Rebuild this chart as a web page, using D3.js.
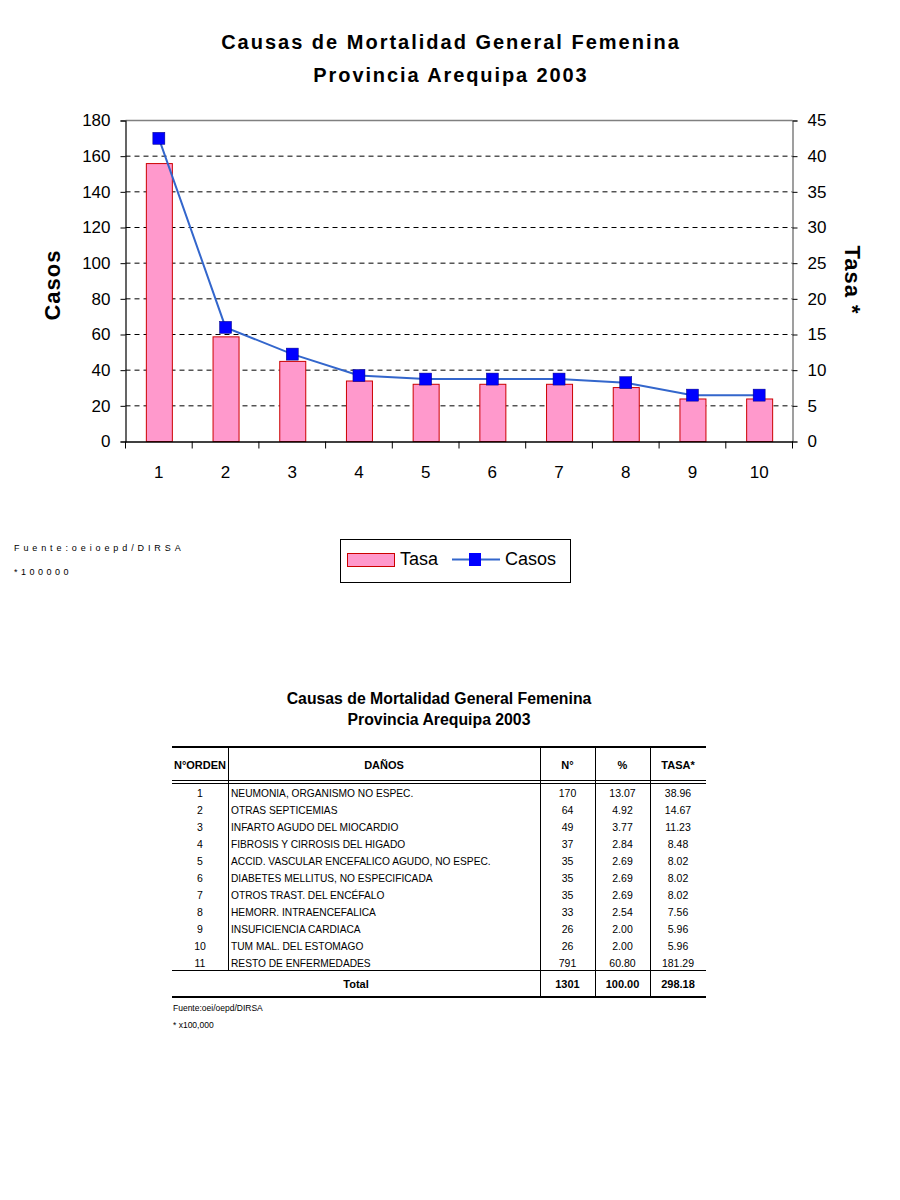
<!DOCTYPE html>
<html><head><meta charset="utf-8">
<script src="https://cdn.jsdelivr.net/npm/d3@7/dist/d3.min.js"></script>
<style>body{margin:0;background:#fff;font-family:"Liberation Sans",Arial,sans-serif}</style>
</head><body>
<svg id="c" width="900" height="1200"></svg>
<script>
const categories = ["1","2","3","4","5","6","7","8","9","10"];
const casos = [170,64,49,37,35,35,35,33,26,26];
const tasa = [38.96,14.67,11.23,8.48,8.02,8.02,8.02,7.56,5.96,5.96];
const leftTicks = [0,20,40,60,80,100,120,140,160,180];
const rightTicks = [0,5,10,15,20,25,30,35,40,45];

const tblOrden = ["1","2","3","4","5","6","7","8","9","10","11"];
const tblDanos = ["NEUMONIA, ORGANISMO NO ESPEC.","OTRAS SEPTICEMIAS","INFARTO AGUDO DEL MIOCARDIO","FIBROSIS Y CIRROSIS DEL HIGADO","ACCID. VASCULAR ENCEFALICO AGUDO, NO ESPEC.","DIABETES MELLITUS, NO ESPECIFICADA","OTROS TRAST. DEL ENCÉFALO","HEMORR. INTRAENCEFALICA","INSUFICIENCIA CARDIACA","TUM MAL. DEL ESTOMAGO","RESTO DE ENFERMEDADES"];
const tblN = ["170","64","49","37","35","35","35","33","26","26","791"];
const tblPct = ["13.07","4.92","3.77","2.84","2.69","2.69","2.69","2.54","2.00","2.00","60.80"];
const tblTasa = ["38.96","14.67","11.23","8.48","8.02","8.02","8.02","7.56","5.96","5.96","181.29"];
const tblTotal = ["1301","100.00","298.18"];
const tblHeaders = ["N°ORDEN","DAÑOS","N°","%","TASA*"];

const svg = d3.select("#c");
const F = '"Liberation Sans",Arial,sans-serif';

// Titles
svg.append("text").attr("x",451).attr("y",49).attr("text-anchor","middle")
  .attr("font-family",F).attr("font-weight","bold").attr("font-size",20).attr("letter-spacing",2)
  .text("Causas de Mortalidad General Femenina");
svg.append("text").attr("x",451).attr("y",82).attr("text-anchor","middle")
  .attr("font-family",F).attr("font-weight","bold").attr("font-size",20).attr("letter-spacing",1.9)
  .text("Provincia Arequipa 2003");

const L=125.5, R=792.5, T=120.5, B=441.5;
const x = d3.scaleBand().domain(categories).range([L,R]);
const yL = d3.scaleLinear().domain([0,180]).range([B,T]);
const yR = d3.scaleLinear().domain([0,45]).range([B,T]);

// gridlines
svg.append("g").selectAll("line").data(leftTicks.filter(d=>d>0&&d<180)).join("line")
  .attr("x1",L).attr("x2",R).attr("y1",d=>yL(d)).attr("y2",d=>yL(d))
  .attr("stroke","#000").attr("stroke-width",1).attr("stroke-dasharray","5,4");
// top border
svg.append("line").attr("x1",L).attr("x2",R).attr("y1",T).attr("y2",T).attr("stroke","#808080").attr("stroke-width",1.5);

// bars
const bw = 26;
svg.append("g").selectAll("rect").data(tasa).join("rect")
  .attr("x",(d,i)=>x(categories[i])+x.bandwidth()/2-bw/2+0.5)
  .attr("width",bw)
  .attr("y",d=>yR(d))
  .attr("height",d=>B-yR(d))
  .attr("fill","#FF99CC").attr("stroke","#CC0000").attr("stroke-width",1);

// left axis
const gl = svg.append("g").attr("transform",`translate(${L},0)`)
  .call(d3.axisLeft(yL).tickValues(leftTicks).tickSize(5).tickPadding(10));
gl.select(".domain").attr("stroke","#000").attr("stroke-width",1.2);
gl.selectAll("text").attr("font-family",F).attr("font-size",17).attr("fill","#000");
// right axis
const gr = svg.append("g").attr("transform",`translate(${R},0)`)
  .call(d3.axisRight(yR).tickValues(rightTicks).tickSize(5).tickPadding(10));
gr.select(".domain").attr("stroke","#808080").attr("stroke-width",1.5);
gr.selectAll("text").attr("font-family",F).attr("font-size",17).attr("fill","#000");
// bottom axis
const gb = svg.append("g").attr("transform",`translate(0,${B})`)
  .call(d3.axisBottom(x).tickSize(0).tickPadding(24));
gb.select(".domain").attr("stroke","#000").attr("stroke-width",1.5);
gb.selectAll("text").attr("font-family",F).attr("font-size",17).attr("fill","#000");
// boundary ticks
svg.append("g").selectAll("line").data(d3.range(categories.length+1)).join("line")
  .attr("x1",i=>L+i*x.step()).attr("x2",i=>L+i*x.step())
  .attr("y1",B).attr("y2",B+7).attr("stroke","#000").attr("stroke-width",1);

// line
const line = d3.line().x((d,i)=>x(categories[i])+x.bandwidth()/2).y(d=>yL(d));
svg.append("path").datum(casos).attr("d",line).attr("fill","none")
  .attr("stroke","#3366CC").attr("stroke-width",2);
svg.append("g").selectAll("rect").data(casos).join("rect")
  .attr("x",(d,i)=>x(categories[i])+x.bandwidth()/2-6)
  .attr("y",d=>yL(d)-6).attr("width",12).attr("height",12)
  .attr("fill","#0000FF").attr("stroke","#000080").attr("stroke-width",0.5);

// axis titles
svg.append("text").attr("transform","translate(60,285) rotate(-90)").attr("text-anchor","middle")
  .attr("font-family",F).attr("font-weight","bold").attr("font-size",22).attr("letter-spacing",1).text("Casos");
svg.append("text").attr("transform","translate(845,280) rotate(90)").attr("text-anchor","middle")
  .attr("font-family",F).attr("font-weight","bold").attr("font-size",22).attr("letter-spacing",1).text("Tasa *");

// source notes
svg.append("text").attr("x",14).attr("y",551).attr("font-family",F).attr("font-size",9).attr("letter-spacing",3.9)
  .text("Fuente:oeioepd/DIRSA");
svg.append("text").attr("x",14).attr("y",575).attr("font-family",F).attr("font-size",9).attr("letter-spacing",3.5)
  .text("*100000");

// legend
const lg = svg.append("g");
lg.append("rect").attr("x",340.5).attr("y",539.5).attr("width",230).attr("height",43).attr("fill","#fff").attr("stroke","#000");
lg.append("rect").attr("x",347.5).attr("y",553.5).attr("width",47).attr("height",13).attr("fill","#FF99CC").attr("stroke","#CC0000");
lg.append("text").attr("x",400).attr("y",565).attr("font-family",F).attr("font-size",18).text("Tasa");
lg.append("line").attr("x1",452).attr("x2",500).attr("y1",559.5).attr("y2",559.5).attr("stroke","#3366CC").attr("stroke-width",2);
lg.append("rect").attr("x",469).attr("y",553).attr("width",12).attr("height",13).attr("fill","#0000FF");
lg.append("text").attr("x",505).attr("y",565).attr("font-family",F).attr("font-size",18).text("Casos");

// ===== Table =====
svg.append("text").attr("x",439).attr("y",704).attr("text-anchor","middle")
  .attr("font-family",F).attr("font-weight","bold").attr("font-size",15.8).text("Causas de Mortalidad General Femenina");
svg.append("text").attr("x",439).attr("y",725).attr("text-anchor","middle")
  .attr("font-family",F).attr("font-weight","bold").attr("font-size",15.8).text("Provincia Arequipa 2003");

const cols = [172,228,540,595,650,706];
const tTop = 747, hBot = 782, rowH = 17, r0 = 788;
const rowsBot = r0 + rowH*tblOrden.length;
const totBot = 997;
const tg = svg.append("g");
tg.append("line").attr("x1",cols[0]).attr("x2",cols[5]).attr("y1",tTop).attr("y2",tTop).attr("stroke","#000").attr("stroke-width",2);
tg.append("line").attr("x1",cols[0]).attr("x2",cols[5]).attr("y1",hBot-1.5).attr("y2",hBot-1.5).attr("stroke","#000").attr("stroke-width",1);
tg.append("line").attr("x1",cols[0]).attr("x2",cols[5]).attr("y1",hBot+1.5).attr("y2",hBot+1.5).attr("stroke","#000").attr("stroke-width",1);
tg.append("line").attr("x1",cols[0]).attr("x2",cols[5]).attr("y1",rowsBot-4.5).attr("y2",rowsBot-4.5).attr("stroke","#000").attr("stroke-width",1);
tg.append("line").attr("x1",cols[0]).attr("x2",cols[5]).attr("y1",totBot).attr("y2",totBot).attr("stroke","#000").attr("stroke-width",2);
cols.slice(1,5).forEach((c,i)=>{
  tg.append("line").attr("x1",c+0.5).attr("x2",c+0.5).attr("y1",tTop).attr("y2",i===0?rowsBot-4.5:totBot).attr("stroke","#000").attr("stroke-width",1);
});
const centers = cols.slice(0,5).map((c,i)=>(c+cols[i+1])/2);
tblHeaders.forEach((h,i)=>{
  tg.append("text").attr("x",centers[i]).attr("y",769).attr("text-anchor","middle")
    .attr("font-family",F).attr("font-weight","bold").attr("font-size",11).text(h);
});
tblOrden.forEach((o,i)=>{
  const y = r0 + rowH*i + 9;
  tg.append("text").attr("x",centers[0]).attr("y",y).attr("text-anchor","middle").attr("font-family",F).attr("font-size",10.5).text(o);
  tg.append("text").attr("x",cols[1]+3).attr("y",y).attr("font-family",F).attr("font-size",10.2).attr("textLength",null).text(tblDanos[i]);
  tg.append("text").attr("x",centers[2]).attr("y",y).attr("text-anchor","middle").attr("font-family",F).attr("font-size",10.5).text(tblN[i]);
  tg.append("text").attr("x",centers[3]).attr("y",y).attr("text-anchor","middle").attr("font-family",F).attr("font-size",10.5).text(tblPct[i]);
  tg.append("text").attr("x",centers[4]).attr("y",y).attr("text-anchor","middle").attr("font-family",F).attr("font-size",10.5).text(tblTasa[i]);
});
tg.append("text").attr("x",(cols[0]+cols[2])/2).attr("y",988).attr("text-anchor","middle").attr("font-family",F).attr("font-weight","bold").attr("font-size",11).text("Total");
tblTotal.forEach((t,i)=>{
  tg.append("text").attr("x",centers[i+2]).attr("y",988).attr("text-anchor","middle").attr("font-family",F).attr("font-weight","bold").attr("font-size",11).text(t);
});
tg.append("text").attr("x",173).attr("y",1011).attr("font-family",F).attr("font-size",8.5).text("Fuente:oei/oepd/DIRSA");
tg.append("text").attr("x",173).attr("y",1028).attr("font-family",F).attr("font-size",8.5).text("* x100,000");
</script>
</body></html>
